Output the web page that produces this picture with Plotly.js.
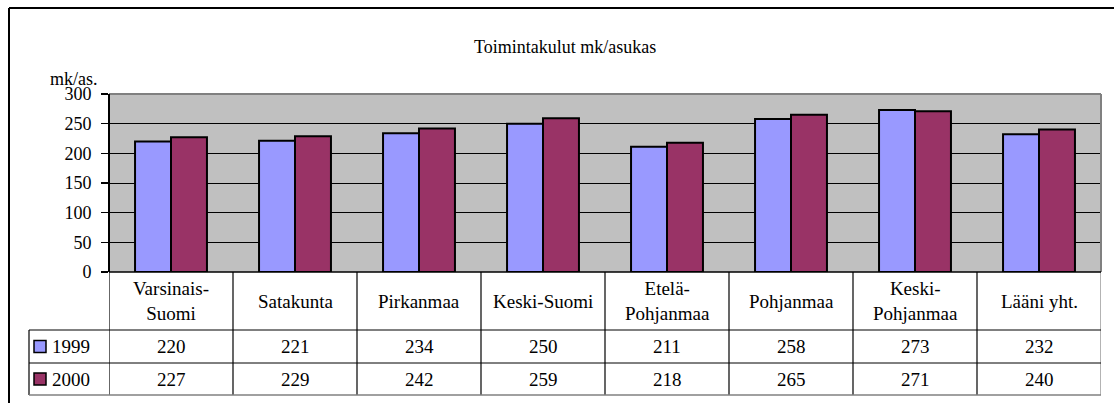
<!DOCTYPE html>
<html><head><meta charset="utf-8">
<script src="https://cdn.plot.ly/plotly-3.0.1.min.js"></script>
<style>
html,body{margin:0;padding:0;background:#fff;}
</style>
</head><body>
<div id="chart" style="width:1114px;height:403px;"></div>
<script>
const categories = ["Varsinais-<br>Suomi","Satakunta","Pirkanmaa","Keski-Suomi","Etelä-<br>Pohjanmaa","Pohjanmaa","Keski-<br>Pohjanmaa","Lääni yht."];
const seriesNames = ["1999","2000"];
const values1999 = [220,221,234,250,211,258,273,232];
const values2000 = [227,229,242,259,218,265,271,240];
const seriesColors = ["#9999ff","#993366"];
const titleText = "Toimintakulut mk/asukas";
const yTitle = "mk/as.";
const yTicks = [0,50,100,150,200,250,300];

const W=1114,H=403,L=109,R=1101,T=94,B=272;
const px = v => (v-L)/(R-L);
const py = v => (B-v)/(B-T);
const FAM = "Liberation Serif";
const FONT = {family:FAM, size:19, color:"#000"};
const FONT18 = {family:FAM, size:18, color:"#000"};
const idx = categories.map((_,i)=>i);
const series = [values1999, values2000];

const traces = series.map((vals,s)=>({
  type:"bar", x:idx, y:vals, name:seriesNames[s],
  marker:{color:seriesColors[s], line:{color:"#000", width:2}},
  hoverinfo:"none"
}));

const shapes = [];
const annotations = [];
const line = (x0,y0,x1,y1,xref,color,w)=>shapes.push({type:"line",xref:xref,yref:"paper",x0:x0,y0:y0,x1:x1,y1:y1,line:{color:color||"#000",width:w||1}});

const rowHeadBot=330, row1Bot=363, row2Bot=395, legLeft=29;
for(let i=0;i<=categories.length;i++){
  const c = i===categories.length ? "#808080" : "#000";
  line(i-0.5,py(B),i-0.5,py(row2Bot),"x",c,1.2);
}
line(px(legLeft),py(rowHeadBot),px(legLeft),py(row2Bot),"paper","#000",1.2);
[rowHeadBot,row1Bot].forEach(r=>line(px(legLeft),py(r),px(R),py(r),"paper","#000",1));
line(px(legLeft),py(row2Bot),px(R),py(row2Bot),"paper","#808080",1.5);
line(0,1,1,1,"paper","#808080",2);
line(1,1,1,0,"paper","#808080",2);
line(0,1,0,0,"paper","#000",2);
line(0,0,1,0,"paper","#000",1.5);
line(px(9),py(8),px(W),py(8),"paper","#000",2);
line(px(9),py(8),px(9),py(H+2),"paper","#000",2);

categories.forEach((c,i)=>annotations.push({xref:"x",yref:"paper",x:i,y:py((B+rowHeadBot)/2),text:c,showarrow:false,font:FONT,xanchor:"center",yanchor:"middle"}));
const rowCenters=[(rowHeadBot+row1Bot)/2,(row1Bot+row2Bot)/2];
series.forEach((vals,s)=>{
  vals.forEach((v,i)=>annotations.push({xref:"x",yref:"paper",x:i,y:py(rowCenters[s]),text:String(v),showarrow:false,font:FONT,xanchor:"center",yanchor:"middle"}));
  shapes.push({type:"rect",xref:"paper",yref:"paper",x0:px(34),x1:px(46),y0:py(rowCenters[s]-6),y1:py(rowCenters[s]+6),fillcolor:seriesColors[s],line:{color:"#000",width:1.5}});
  annotations.push({xref:"paper",yref:"paper",x:px(50),y:py(rowCenters[s]),text:seriesNames[s],showarrow:false,font:FONT,xanchor:"left",yanchor:"middle"});
});
annotations.push({xref:"paper",yref:"paper",x:px(565),y:py(47),text:titleText,showarrow:false,font:FONT18,xanchor:"center",yanchor:"middle"});
annotations.push({xref:"paper",yref:"paper",x:px(100),y:py(79),text:yTitle,showarrow:false,font:FONT18,xanchor:"right",yanchor:"middle"});

const layout = {
  width:W,height:H,
  margin:{l:L,r:W-R,t:T,b:H-B,pad:0},
  paper_bgcolor:"#fff", plot_bgcolor:"#c0c0c0",
  showlegend:false, barmode:"group", bargap:0.42, bargroupgap:0,
  xaxis:{range:[-0.5,categories.length-0.5],showticklabels:false,ticks:"",showgrid:false,zeroline:false,showline:false,fixedrange:true},
  yaxis:{range:[0,300],tickvals:yTicks,ticktext:yTicks.map(String),ticks:"outside",ticklen:7,tickwidth:1.5,tickcolor:"#000",
         ticklabelstandoff:6,showgrid:true,gridcolor:"#000",gridwidth:1,zeroline:false,showline:false,tickfont:FONT18,fixedrange:true},
  shapes:shapes, annotations:annotations
};
Plotly.newPlot("chart",traces,layout,{staticPlot:true,displayModeBar:false});
</script>
</body></html>
